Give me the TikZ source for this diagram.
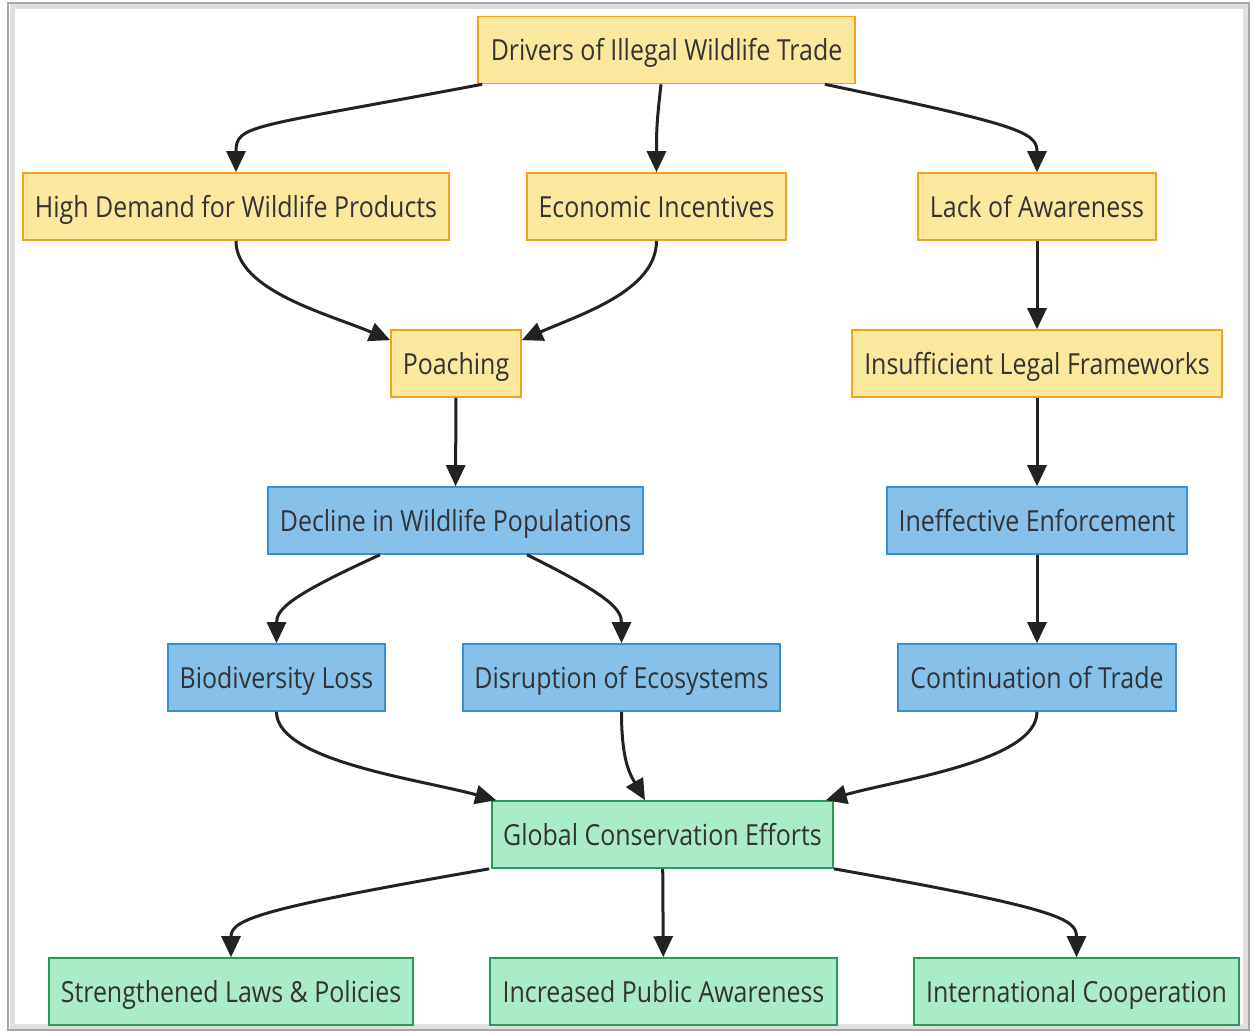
\documentclass[tikz,border=0pt]{standalone}
\usepackage{fontspec}
\setmainfont[FakeStretch=0.86]{Open Sans}
\usetikzlibrary{arrows.meta,positioning}
\definecolor{drvfill}{HTML}{FAE89C}
\definecolor{drvline}{HTML}{F5A01E}
\definecolor{effill}{HTML}{85C1E9}
\definecolor{efline}{HTML}{3A8FD0}
\definecolor{resfill}{HTML}{A9ECC8}
\definecolor{resline}{HTML}{2A9A58}
\definecolor{txt}{HTML}{333333}
\definecolor{edge}{HTML}{222222}
\tikzset{
  flow/.style={-{Triangle[length=21pt,width=19pt]}, line width=3pt, draw=edge},
  box/.style={draw, line width=1.6pt, inner sep=0pt, minimum height=67pt, text=txt,
    text height=22pt, text depth=0.6pt, font=\fontsize{29}{34}\selectfont},
}
\begin{document}
\begin{tikzpicture}[
  x=1pt, y=-1pt,
  cause/.style={box, fill=drvfill, draw=drvline},
  effect/.style={box, fill=effill, draw=efline},
  answer/.style={box, fill=resfill, draw=resline},
]
  \useasboundingbox (0,0) rectangle (1254,1033);
  % frame
  \draw[gray!25, line width=5pt] (12,7) rectangle (1245,1026);
  \draw[gray!70, line width=2.5pt] (8,3) rectangle (1249,1030);

  % drivers
  \node[cause, minimum width=377pt] (drv) at (666.5,50) {Drivers of Illegal Wildlife Trade};
  \node[cause, minimum width=426pt] (hd) at (236,206.5) {High Demand for Wildlife Products};
  \node[cause, minimum width=259pt] (ei) at (656.5,206.5) {Economic Incentives};
  \node[cause, minimum width=238pt] (la) at (1037,206.5) {Lack of Awareness};
  \node[cause, minimum width=130pt] (po) at (456,363.5) {Poaching};
  \node[cause, minimum width=370pt] (il) at (1037,363.5) {Insufficient Legal Frameworks};

  % effects
  \node[effect, minimum width=375pt] (dw) at (455.5,520.5) {Decline in Wildlife Populations};
  \node[effect, minimum width=300pt] (ie) at (1037,520.5) {Ineffective Enforcement};
  \node[effect, minimum width=217pt] (bl) at (276.5,677.5) {Biodiversity Loss};
  \node[effect, minimum width=317pt] (de) at (621.5,677.5) {Disruption of Ecosystems};
  \node[effect, minimum width=278pt] (ct) at (1037,677.5) {Continuation of Trade};

  % responses
  \node[answer, minimum width=341pt] (gc) at (662.5,834.5) {Global Conservation Efforts};
  \node[answer, minimum width=364pt] (sl) at (231,991.5) {Strengthened Laws \& Policies};
  \node[answer, minimum width=347pt] (ip) at (663.5,991.5) {Increased Public Awareness};
  \node[answer, minimum width=325pt] (ic) at (1076.5,991.5) {International Cooperation};

  % edges
  \draw[flow] ([xshift=5pt]drv.south west) .. controls +(-233,44) and +(0,-48) .. (hd.north);
  \draw[flow] ([xshift=-5.5pt]drv.south) .. controls +(-4,36) and +(0,-45) .. (ei.north);
  \draw[flow] ([xshift=-31pt]drv.south east) .. controls +(196,41) and +(0,-40) .. (la.north);
  \draw[flow] (hd.south) .. controls +(0,50) and +(-61,-26) .. ([yshift=-11pt]po.north west);
  \draw[flow] (ei.south) .. controls +(0,50) and +(59,-26) .. ([yshift=-11pt]po.north east);
  \draw[flow] (po) -- (dw);
  \draw[flow] (la) -- (il);
  \draw[flow] (il) -- (ie);
  \draw[flow] (ie) -- (ct);
  \draw[flow] ([xshift=-75.5pt]dw.south) .. controls +(-90,41) and +(0,-34) .. (bl.north);
  \draw[flow] ([xshift=71.5pt]dw.south) .. controls +(83,41) and +(0,-34) .. (de.north);
  \draw[flow] (bl.south) .. controls +(0,49) and +(-77,-21) .. ([xshift=5pt]gc.north west);
  \draw[flow] (de.south) .. controls +(0,49) and +(-15,-26) .. ([xshift=-17.5pt]gc.north);
  \draw[flow] (ct.south) .. controls +(0,49) and +(75,-21) .. ([xshift=-8pt]gc.north east);
  \draw[flow] ([xshift=-2pt]gc.south west) .. controls +(-230,40) and +(0,-38) .. (sl.north);
  \draw[flow] (gc) -- (ip);
  \draw[flow] (gc.south east) .. controls +(227,40) and +(0,-38) .. (ic.north);
\end{tikzpicture}
\end{document}
